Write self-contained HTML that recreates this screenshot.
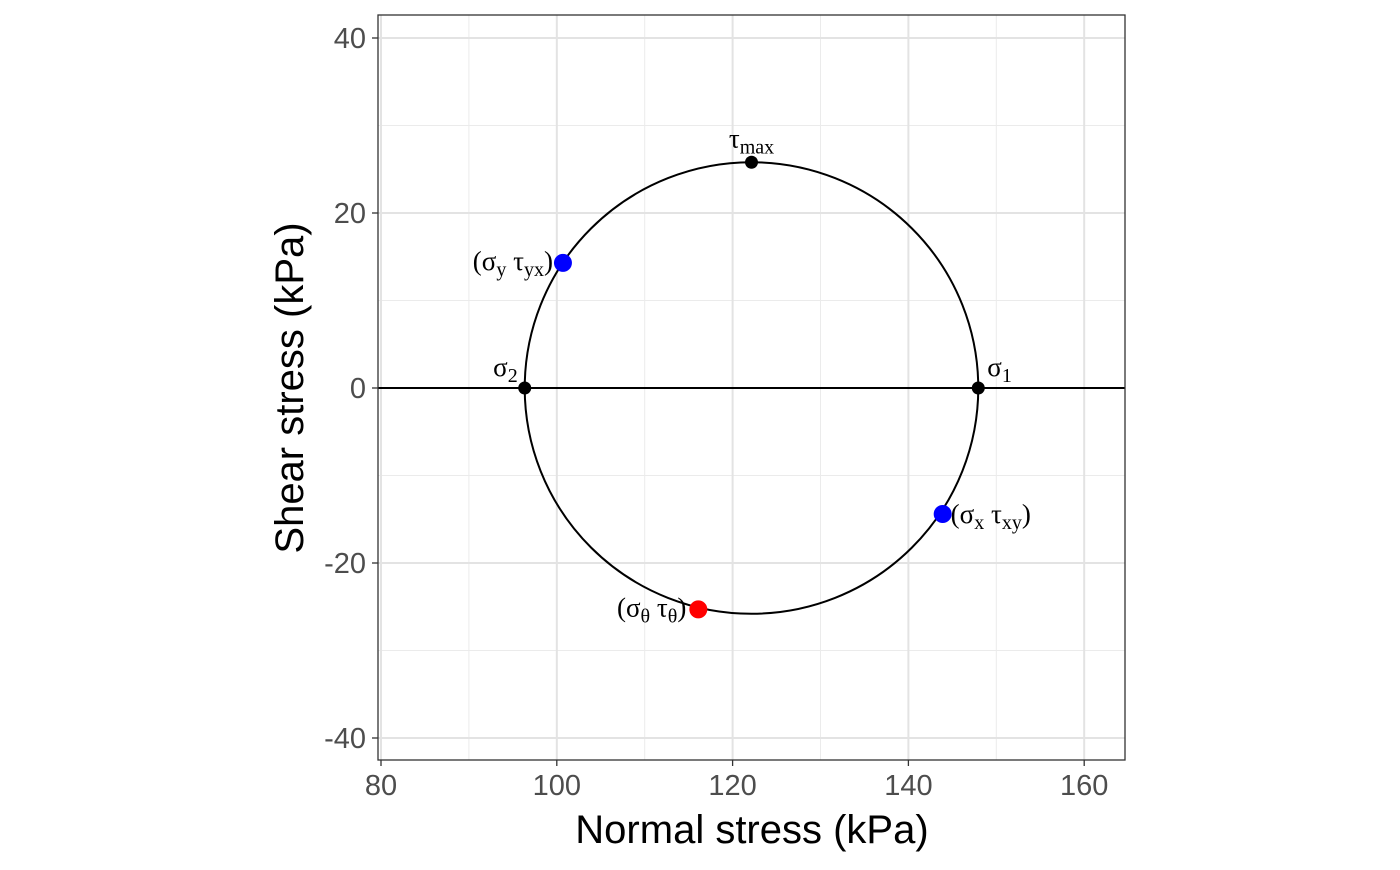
<!DOCTYPE html>
<html><head><meta charset="utf-8"><style>
body{margin:0;background:#fff;}
svg text{font-family:"Liberation Sans",sans-serif;}
.m{font-family:"Liberation Serif",serif;font-size:27px;fill:#000;}
</style></head><body>
<svg width="1400" height="865">
<g id="grid"></g>
<g id="plot"></g>
<g id="axes"></g>
<text x="752" y="843" text-anchor="middle" font-size="40" fill="#000">Normal stress (kPa)</text>
<text transform="translate(303,388) rotate(-90)" text-anchor="middle" font-size="40" fill="#000">Shear stress (kPa)</text>
</svg>
<script>
const xTicks=[80,100,120,140,160];
const yTicks=[-40,-20,0,20,40];
const xMinor=[90,110,130,150];
const yMinor=[-30,-10,10,30];
const center=[122.15];
const radius=[25.8];
const pointX=[147.95,96.35,122.15,143.9,100.7,116.1];
const pointY=[0,0,25.8,-14.4,14.3,-25.3];
const pointColor=['#000','#000','#000','#0000ff','#0000ff','#ff0000'];
const L=378,R=1125,T=15,B=760;
const xs=v=>381+(v-80)*8.79;
const ys=v=>388-v*8.75;
const NS='http://www.w3.org/2000/svg';
function mk(tag,attrs,parent){const e=document.createElementNS(NS,tag);for(const k in attrs)e.setAttribute(k,attrs[k]);parent.appendChild(e);return e;}
const grid=document.getElementById('grid'),plot=document.getElementById('plot'),axes=document.getElementById('axes');
mk('rect',{x:L,y:T,width:R-L,height:B-T,fill:'#fff'},grid);
xMinor.forEach(v=>{const e=mk('line',{x1:xs(v),x2:xs(v),y1:T,y2:B,stroke:'#ebebeb','stroke-width':1},grid);});
yMinor.forEach(v=>{const e=mk('line',{x1:L,x2:R,y1:ys(v),y2:ys(v),stroke:'#ebebeb','stroke-width':1},grid);});
xTicks.forEach(v=>{const e=mk('line',{x1:xs(v),x2:xs(v),y1:T,y2:B,stroke:'#e3e3e3','stroke-width':2},grid);
 mk('line',{x1:xs(v),x2:xs(v),y1:B,y2:B+6,stroke:'#333','stroke-width':1.3},axes);
 const t=mk('text',{x:xs(v),y:B+35,'text-anchor':'middle','font-size':29,fill:'#4d4d4d'},axes);t.textContent=v;});
yTicks.forEach(v=>{const e=mk('line',{x1:L,x2:R,y1:ys(v),y2:ys(v),stroke:'#e3e3e3','stroke-width':2},grid);
 mk('line',{x1:L-6,x2:L,y1:ys(v),y2:ys(v),stroke:'#333','stroke-width':1.3},axes);
 const t=mk('text',{x:L-12,y:ys(v)+10,'text-anchor':'end','font-size':29,fill:'#4d4d4d'},axes);t.textContent=v;});
let e=mk('line',{x1:L,x2:R,y1:ys(0),y2:ys(0),stroke:'#000','stroke-width':2},plot);

e=mk('ellipse',{cx:xs(center[0]),cy:ys(0),rx:radius[0]*8.79,ry:radius[0]*8.75,fill:'none',stroke:'#000','stroke-width':2},plot);

pointX.forEach((v,i)=>{const big=i>=3;const c=mk('circle',{cx:xs(v),cy:ys(pointY[i]),r:big?9:6.5,fill:pointColor[i]},plot);
 });
const S='<tspan font-size="20" dy="6">', E='</tspan>';
const labels=[
 [xs(pointX[0])+9,ys(0)-12,'start','σ'+S+'1'+E],
 [xs(pointX[1])-7,ys(0)-12,'end','σ'+S+'2'+E],
 [xs(pointX[2]),ys(pointY[2])-15,'middle','τ'+S+'max'+E],
 [xs(pointX[3])+8,ys(pointY[3])+9,'start','(σ'+S+'x'+E+'<tspan dy="-6"> τ</tspan>'+S+'xy'+E+'<tspan dy="-6">)</tspan>'],
 [xs(pointX[4])-10,ys(pointY[4])+7,'end','(σ'+S+'y'+E+'<tspan dy="-6"> τ</tspan>'+S+'yx'+E+'<tspan dy="-6">)</tspan>'],
 [xs(pointX[5])-12,ys(pointY[5])+7,'end','(σ'+S+'θ'+E+'<tspan dy="-6"> τ</tspan>'+S+'θ'+E+'<tspan dy="-6">)</tspan>']];
labels.forEach(l=>{const t=mk('text',{x:l[0],y:l[1],'text-anchor':l[2],class:'m'},plot);t.innerHTML=l[3];});
e=mk('rect',{x:L,y:T,width:R-L,height:B-T,fill:'none',stroke:'#333','stroke-width':1.3},axes);

</script>
</body></html>
